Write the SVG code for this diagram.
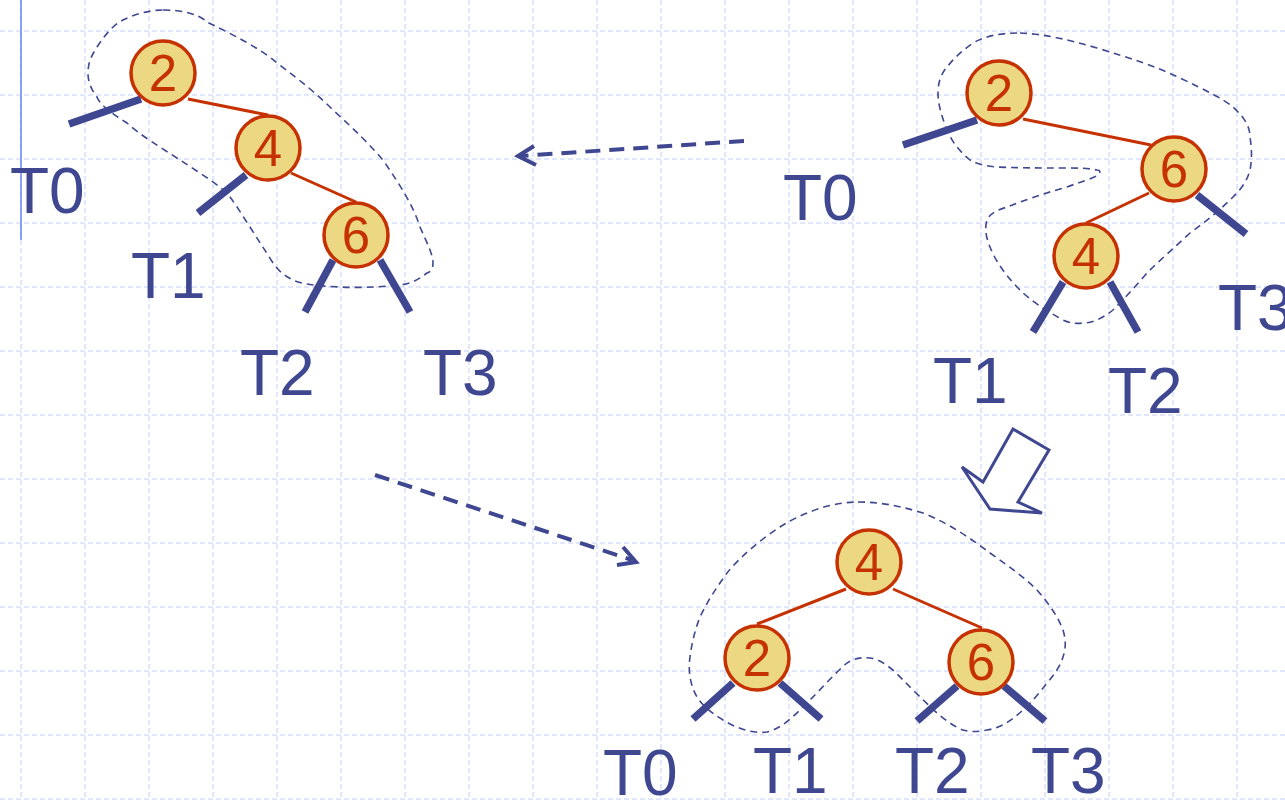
<svg xmlns="http://www.w3.org/2000/svg" width="1285" height="800" viewBox="0 0 1285 800">
  <defs>
    <style>
      .grid { stroke: #d6e0fb; stroke-width: 1.5; stroke-dasharray: 5 3; fill: none; }
      .edge { stroke: #c53100; stroke-width: 3; fill: none; }
      .stick { stroke: #3f4791; stroke-width: 7.5; fill: none; }
      .node circle { fill: #ecd882; stroke: #c53100; stroke-width: 3.5; }
      .node text { fill: #c53100; font-family: "Liberation Sans", Arial, sans-serif; font-size: 51px; text-anchor: middle; }
      .lbl { fill: #3f4791; font-family: "Liberation Sans", Arial, sans-serif; font-size: 64px; }
      .blob { stroke: #3f4791; stroke-width: 1.6; stroke-dasharray: 7 5; fill: none; }
      .flow { stroke: #3f4791; stroke-width: 4; stroke-dasharray: 15 9; fill: none; }
      .head { stroke: #3f4791; stroke-width: 4; fill: none; }
    </style>
  </defs>

  <rect width="1285" height="800" fill="#ffffff"/>

  <!-- background grid -->
  <g id="grid">
    <path class="grid" d="M21 0V800 M85 0V800 M149 0V800 M213 0V800 M277 0V800 M341 0V800 M405 0V800 M469 0V800 M533 0V800 M597 0V800 M661 0V800 M725 0V800 M789 0V800 M853 0V800 M917 0V800 M981 0V800 M1045 0V800 M1109 0V800 M1173 0V800 M1237 0V800"/>
    <path class="grid" d="M0 31H1285 M0 95H1285 M0 159H1285 M0 223H1285 M0 287H1285 M0 351H1285 M0 415H1285 M0 479H1285 M0 543H1285 M0 607H1285 M0 671H1285 M0 735H1285 M0 799H1285"/>
    <line x1="21" y1="0" x2="21" y2="240" stroke="#6f8cf5" stroke-width="1.6"/>
  </g>

  <!-- grouping outlines -->
  <g id="outlines">
    <path class="blob" d="M163 10 C185 10 200 15 207 22 C240 38 262 50 277 63 C300 80 318 95 333 110 C355 130 370 145 383 160 C400 185 413 205 420 227 C428 245 433 255 433 263 C433 270 430 272 427 273 C418 280 410 284 400 285 C380 287 360 288 340 287 C318 286 300 284 293 280 C283 275 278 270 273 263 C265 250 258 240 250 227 C242 215 235 203 227 193 C212 180 195 170 180 160 C160 147 140 135 127 123 C110 112 100 105 97 97 C90 88 88 80 88 73 C88 62 92 55 97 47 C105 35 113 25 123 20 C135 14 150 10 163 10 Z"/>
    <path class="blob" d="M1020 33 C1045 34 1070 40 1097 48 C1130 58 1155 66 1180 78 C1205 90 1222 98 1233 107 C1245 118 1250 127 1250 137 C1252 150 1252 160 1250 170 C1247 182 1240 190 1233 197 C1218 212 1205 222 1190 233 C1175 247 1160 260 1147 273 C1135 287 1123 300 1113 310 C1103 318 1093 323 1083 323 C1075 324 1070 323 1063 320 C1045 310 1030 300 1020 290 C1005 275 995 260 990 247 C985 235 985 227 987 220 C990 213 998 210 1007 207 C1025 200 1045 193 1067 187 C1080 182 1092 179 1098 175 C1101 172 1100 170 1097 170 C1087 168 1077 168 1067 168 C1040 168 1020 168 997 167 C985 166 977 164 970 160 C960 152 952 142 947 130 C942 117 938 105 938 93 C938 82 941 74 947 67 C955 57 963 50 973 43 C985 36 1000 33 1020 33 Z"/>
    <path class="blob" d="M858 502 C880 502 900 506 923 513 C950 524 970 538 990 553 C1010 567 1025 578 1037 590 C1050 605 1058 617 1063 630 C1066 640 1066 648 1063 657 C1060 667 1054 675 1047 683 C1040 692 1032 702 1023 710 C1010 722 1000 728 987 730 C978 732 970 732 963 730 C955 727 945 720 937 713 C925 702 913 690 903 680 C892 668 880 659 870 658 C860 657 853 659 847 663 C835 673 822 688 810 700 C797 713 782 729 767 732 C752 734 736 728 723 720 C710 712 702 705 697 697 C690 685 688 670 690 657 C692 642 695 630 700 617 C708 600 717 587 727 573 C740 557 760 540 780 527 C800 514 830 502 858 502 Z"/>
  </g>

  <!-- connectors: tree edges, subtree stubs and transformation arrows -->
  <g id="connectors">
    <!-- left tree -->
    <line class="edge" x1="188" y1="99" x2="268" y2="115"/>
    <line class="edge" x1="291" y1="173" x2="356" y2="202"/>
    <line class="stick" x1="141" y1="99" x2="69" y2="124"/>
    <line class="stick" x1="246" y1="175" x2="198" y2="213"/>
    <line class="stick" x1="333" y1="260" x2="305" y2="312"/>
    <line class="stick" x1="380" y1="260" x2="410" y2="312"/>
    <!-- right tree -->
    <line class="edge" x1="1023" y1="119" x2="1151" y2="145"/>
    <line class="edge" x1="1149" y1="193" x2="1086" y2="223"/>
    <line class="stick" x1="977" y1="120" x2="903" y2="145"/>
    <line class="stick" x1="1197" y1="195" x2="1246" y2="234"/>
    <line class="stick" x1="1063" y1="282" x2="1033" y2="332"/>
    <line class="stick" x1="1110" y1="282" x2="1138" y2="332"/>
    <!-- bottom tree -->
    <line class="edge" x1="846" y1="589" x2="757" y2="624"/>
    <line class="edge" x1="893" y1="589" x2="982" y2="628"/>
    <line class="stick" x1="733" y1="683" x2="693" y2="719"/>
    <line class="stick" x1="780" y1="683" x2="821" y2="719"/>
    <line class="stick" x1="957" y1="686" x2="917" y2="721"/>
    <line class="stick" x1="1004" y1="686" x2="1045" y2="721"/>
    <!-- dashed transformation arrows -->
    <line class="flow" x1="744" y1="141" x2="520" y2="156"/>
    <polyline class="head" points="534,146 518,156 536,165"/>
    <line class="flow" x1="375" y1="475" x2="632" y2="560"/>
    <polyline class="head" points="623,547 636,562 617,565"/>
    <!-- outlined block arrow -->
    <polygon points="1013,429 1049,450 1018,502 1042,513 990,509 962,467 983,482" fill="#ffffff" stroke="#3f4791" stroke-width="3" stroke-linejoin="miter"/>
  </g>

  <!-- nodes -->
  <g id="L2" class="node"><circle cx="163" cy="73" r="32"/><text x="163" y="91">2</text></g>
  <g id="L4" class="node"><circle cx="268" cy="148" r="32"/><text x="268" y="166">4</text></g>
  <g id="L6" class="node"><circle cx="356" cy="235" r="32"/><text x="356" y="253">6</text></g>

  <g id="R2" class="node"><circle cx="999" cy="93" r="32"/><text x="999" y="111">2</text></g>
  <g id="R6" class="node"><circle cx="1174" cy="169" r="32"/><text x="1174" y="187">6</text></g>
  <g id="R4" class="node"><circle cx="1086" cy="256" r="32"/><text x="1086" y="274">4</text></g>

  <g id="B4" class="node"><circle cx="869" cy="562" r="32"/><text x="869" y="580">4</text></g>
  <g id="B2" class="node"><circle cx="757" cy="658" r="32"/><text x="757" y="676">2</text></g>
  <g id="B6" class="node"><circle cx="981" cy="662" r="32"/><text x="981" y="680">6</text></g>

  <!-- subtree labels -->
  <g id="labels">
    <text class="lbl" x="10" y="213">T0</text>
    <text class="lbl" x="131" y="298">T1</text>
    <text class="lbl" x="240" y="395">T2</text>
    <text class="lbl" x="423" y="395">T3</text>

    <text class="lbl" x="783" y="220">T0</text>
    <text class="lbl" x="933" y="403">T1</text>
    <text class="lbl" x="1108" y="413">T2</text>
    <text class="lbl" x="1218" y="330">T3</text>

    <text class="lbl" x="603" y="795">T0</text>
    <text class="lbl" x="753" y="793">T1</text>
    <text class="lbl" x="895" y="793">T2</text>
    <text class="lbl" x="1031" y="793">T3</text>
  </g>
</svg>
